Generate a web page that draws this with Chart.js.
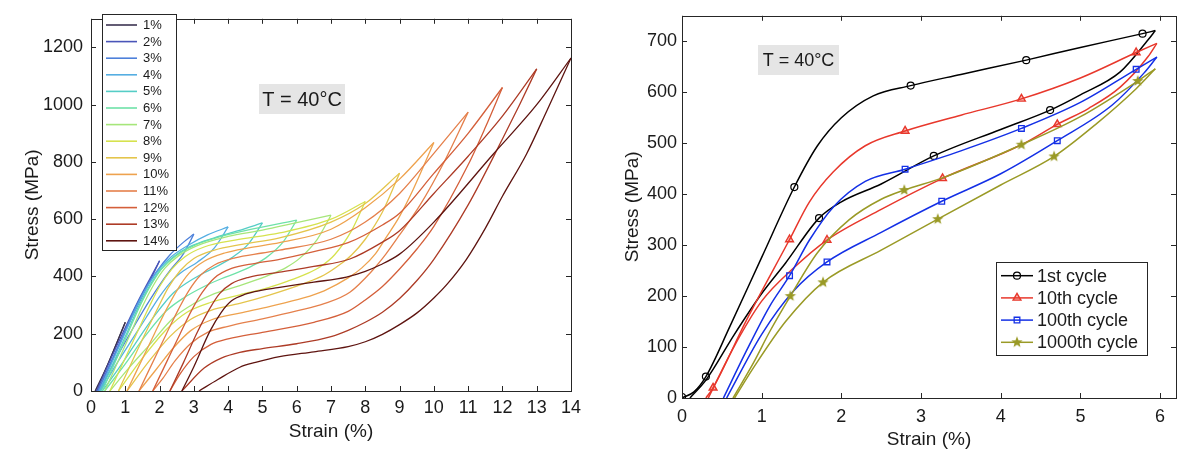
<!DOCTYPE html>
<html>
<head>
<meta charset="utf-8">
<script src="https://cdn.jsdelivr.net/npm/chart.js@4.4.1/dist/chart.umd.min.js"></script>
<style>
  html, body { margin: 0; padding: 0; background: #fff; }
  #wrap { position: relative; width: 1200px; height: 459px; }
  .panel { position: absolute; top: 0; width: 600px; height: 459px; }
</style>
</head>
<body>
<div id="wrap">
  <div class="panel" style="left:0"><canvas id="loops" width="600" height="459"></canvas></div>
  <div class="panel" style="left:600px"><canvas id="cycles" width="600" height="459"></canvas></div>
</div>
<script>
// left panel: loading / unloading branch of each loop, [strain %, stress MPa]
const loopLabels = ['1%', '2%', '3%', '4%', '5%', '6%', '7%', '8%', '9%', '10%', '11%', '12%', '13%', '14%'];

const up1 = [[0.12,0],[0.5,95],[1,240]];
const down1 = [[1,240],[0.55,110],[0.16,0]];
const up2 = [[0.16,0],[0.8,170],[1.4,320],[1.8,410],[2,455]];
const down2 = [[2,455],[1.7,380],[1.2,260],[0.7,130],[0.2,0]];
const up3 = [[0.2,0],[0.9,185],[1.25,280],[1.55,350],[1.9,415],[2.3,475],[2.7,520],[3,548]];
const down3 = [[3,548],[2.7,480],[2.3,420],[2.0,370],[1.7,315],[1.3,235],[0.9,150],[0.24,0]];
const up4 = [[0.24,0],[0.95,190],[1.3,285],[1.6,355],[1.95,420],[2.35,470],[2.85,510],[3.4,545],[4,573]];
const down4 = [[4,573],[3.6,500],[3.1,450],[2.7,420],[2.4,390],[2.0,330],[1.6,255],[1.2,180],[0.8,105],[0.28,0]];
const up5 = [[0.28,0],[1.0,190],[1.35,285],[1.65,355],[2.0,420],[2.4,468],[2.9,505],[3.6,535],[4.3,560],[5,587]];
const down5 = [[5,587],[4.6,515],[4.1,465],[3.7,437],[3.3,413],[2.8,378],[2.4,342],[1.9,270],[1.4,185],[0.9,95],[0.33,0]];
const up6 = [[0.33,0],[1.05,195],[1.4,290],[1.7,360],[2.05,425],[2.45,470],[3.0,508],[3.8,540],[4.8,568],[6,597]];
const down6 = [[6,597],[5.6,520],[5.1,465],[4.7,437],[4.3,415],[3.8,392],[3.3,365],[2.7,325],[2.2,280],[1.6,195],[1.0,95],[0.4,0]];
const up7 = [[0.4,0],[1.15,200],[1.5,295],[1.8,365],[2.15,428],[2.55,472],[3.1,508],[4,540],[5,562],[6,588],[7,614]];
const down7 = [[7,614],[6.6,530],[6.1,465],[5.7,432],[5.3,410],[4.8,387],[4.34,368],[3.6,340],[3.0,305],[2.4,255],[1.7,160],[1.1,80],[0.55,0]];
const up8 = [[0.55,0],[1.35,205],[1.7,295],[2.0,365],[2.35,425],[2.75,470],[3.3,503],[4.2,527],[5.5,552],[7,600],[8,662]];
const down8 = [[8,662],[7.6,560],[7.1,475],[6.7,435],[6.3,410],[5.7,382],[5.2,362],[4.34,336],[3.5,310],[2.8,275],[2.2,215],[1.5,115],[0.8,0]];
const up9 = [[0.8,0],[1.6,205],[1.95,290],[2.25,360],[2.6,420],[3.0,463],[3.6,492],[4.4,512],[5.5,535],[7,590],[8,655],[9,761]];
const down9 = [[9,761],[8.5,625],[8,530],[7.6,475],[7.3,445],[6.8,405],[6.2,375],[5.2,335],[4.34,306],[3.5,282],[2.9,250],[2.3,190],[1.7,105],[1.05,0]];
const up10 = [[1.05,0],[1.85,200],[2.2,285],[2.5,350],[2.85,410],[3.3,453],[3.9,482],[4.6,500],[5.5,518],[7,565],[8,640],[9,740],[10,868]];
const down10 = [[10,868],[9.4,705],[9,610],[8.6,535],[8.3,480],[7.9,430],[7.5,395],[6.8,350],[6.2,325],[5.2,295],[4.34,272],[3.5,248],[2.9,210],[2.4,150],[1.9,75],[1.4,0]];
const up11 = [[1.4,0],[2.2,200],[2.55,285],[2.85,350],[3.2,405],[3.6,440],[4.2,465],[5.0,482],[5.5,492],[7,530],[8,590],[9,690],[10,830],[11,974]];
const down11 = [[11,974],[10.3,800],[9.6,650],[9,545],[8.6,478],[8.2,420],[7.55,345],[6.8,305],[6,280],[5,252],[4.0,226],[3.4,205],[2.9,165],[2.45,105],[2.1,45],[1.8,0]];
const up12 = [[1.8,0],[2.2,100],[2.6,200],[2.95,285],[3.25,345],[3.6,395],[4.1,428],[4.8,446],[5.5,460],[6.5,487],[7.5,518],[8.5,580],[9,621],[10,760],[11,900],[12,1060]];
const down12 = [[12,1060],[11.5,920],[11,790],[10,575],[9.5,495],[9,426],[8.5,365],[8,318],[7.5,278],[6.5,240],[5,205],[4.0,182],[3.5,163],[3.0,120],[2.6,60],[2.3,0]];
const up13 = [[2.3,0],[2.7,100],[3.1,205],[3.45,285],[3.75,340],[4.1,375],[4.6,397],[5.5,415],[6.5,435],[7.55,461],[8.5,520],[9,560],[10,690],[11,820],[12,960],[13,1125]];
const down13 = [[13,1125],[12.5,1000],[12,880],[11,650],[10,460],[9.5,385],[9,323],[8.5,275],[8,240],[7.5,212],[7,190],[6,165],[5,148],[4.34,135],[3.8,115],[3.3,80],[2.65,0]];
const up14 = [[2.65,0],[3.0,85],[3.47,209],[3.8,275],[4.1,315],[4.5,338],[5.0,352],[5.5,362],[6.5,380],[7.45,398],[8.0,418],[8.43,440],[9,478],[10,590],[11.73,827],[13,1000],[14,1163]];
const down14 = [[14,1163],[13.3,980],[12.7,827],[12,680],[11.5,568],[10.95,460],[10.4,375],[10,325],[9.5,272],[9,232],[8.5,198],[8,172],[7.5,155],[6.5,137],[5.5,120],[4.8,100],[4.34,83],[3.7,40],[3.15,0]];

const loadBranches = [up1, up2, up3, up4, up5, up6, up7, up8, up9, up10, up11, up12, up13, up14];
const unloadBranches = [down1, down2, down3, down4, down5, down6, down7, down8, down9, down10, down11, down12, down13, down14];
const loopColors = ['#3c3351','#4a55b8','#4d80da','#55aee2','#55cdc6','#6ee2a8','#a6e67a','#d6e24e',
                    '#e4c54c','#eea24e','#e5804c','#d45f3a','#ad3b26','#5e1410'];

// right panel: cycles
const cycleLabels = ['1st cycle', '10th cycle', '100th cycle', '1000th cycle'];

const load1st = [[0,0],[0.15,12],[0.3,42],[0.6,140],[1.0,276],[1.41,414],[1.7,495],[2.0,550],[2.4,593],[2.87,613],[3.5,635],[4.32,663],[5.0,688],[5.78,715],[5.94,721]];
const unload1st = [[5.94,721],[5.85,703],[5.5,640],[5.0,595],[4.62,565],[4.0,527],[3.16,475],[2.5,420],[2.0,385],[1.72,353],[1.3,265],[1.0,205],[0.65,123],[0.3,35],[0.1,0]];
const marks1st = [[0,2],[0.3,42],[1.41,414],[2.87,613],[4.32,663],[5.78,715],[4.62,565],[3.16,475],[1.72,353]];

const load10th = [[0.3,0],[0.39,20],[0.8,150],[1.35,311],[1.6,385],[1.9,444],[2.3,495],[2.8,524],[3.5,555],[4.26,587],[5.0,628],[5.7,678],[5.96,696]];
const unload10th = [[5.96,696],[5.85,670],[5.5,610],[5.1,568],[4.71,537],[4.26,497],[3.27,431],[2.5,370],[1.82,310],[1.4,255],[1.0,190],[0.65,100],[0.33,0]];
const marks10th = [[0.39,20],[1.35,311],[2.8,524],[4.26,587],[5.7,678],[4.71,537],[3.27,431],[1.82,310]];

const load100th = [[0.52,0],[0.8,90],[1.1,180],[1.35,240],[1.6,310],[1.9,375],[2.3,425],[2.8,449],[3.5,485],[4.26,529],[5.0,580],[5.7,645],[5.96,669]];
const unload100th = [[5.96,669],[5.8,638],[5.4,575],[4.71,505],[4.0,440],[3.26,386],[2.5,325],[1.82,267],[1.4,210],[1.0,125],[0.56,0]];
const marks100th = [[1.35,240],[2.8,449],[4.26,529],[5.7,645],[4.71,505],[3.26,386],[1.82,267]];

const load1000th = [[0.64,0],[0.9,70],[1.1,130],[1.36,200],[1.7,285],[2.1,350],[2.5,390],[2.79,408],[3.27,432],[4.26,497],[5.0,552],[5.72,622],[5.94,646]];
const unload1000th = [[5.94,646],[5.7,607],[5.2,538],[4.67,474],[4.0,418],[3.21,351],[2.5,290],[1.77,227],[1.3,150],[0.9,60],[0.66,0]];
const marks1000th = [[1.36,200],[2.79,408],[4.26,497],[5.72,622],[4.67,474],[3.21,351],[1.77,227]];

const FONT = '"Liberation Sans", Arial, Helvetica, sans-serif';
const INK = '#1a1a1a';

function toXY(pts) {
    return pts.map(p => ({ x: p[0], y: p[1] }));
}

// pentagram marker like matlab's 'p'
function starImage(color, r) {
    const c = document.createElement('canvas');
    const s = Math.ceil(r * 2 + 2);
    c.width = s; c.height = s;
    const g = c.getContext('2d');
    g.beginPath();
    for (let i = 0; i < 10; i++) {
        const rad = i % 2 ? r * 0.42 : r;
        const ang = -Math.PI / 2 + i * Math.PI / 5;
        g.lineTo(s / 2 + rad * Math.cos(ang), s / 2 + rad * Math.sin(ang));
    }
    g.closePath();
    g.fillStyle = color;
    g.fill();
    return c;
}

// box around the axes with inward ticks on all sides
const frame = {
    id: 'frame',
    afterDatasetsDraw(chart) {
        const { ctx, chartArea: a, scales } = chart;
        ctx.save();
        ctx.strokeStyle = '#262626';
        ctx.lineWidth = 1;
        ctx.beginPath();
        scales.x.ticks.forEach(t => {
            const p = Math.round(scales.x.getPixelForValue(t.value)) + 0.5;
            ctx.moveTo(p, a.bottom); ctx.lineTo(p, a.bottom - 5);
            ctx.moveTo(p, a.top); ctx.lineTo(p, a.top + 5);
        });
        scales.y.ticks.forEach(t => {
            const p = Math.round(scales.y.getPixelForValue(t.value)) + 0.5;
            ctx.moveTo(a.left, p); ctx.lineTo(a.left + 5, p);
            ctx.moveTo(a.right, p); ctx.lineTo(a.right - 5, p);
        });
        ctx.stroke();
        ctx.strokeRect(Math.round(a.left) + 0.5, Math.round(a.top) + 0.5,
                       Math.round(a.right - a.left), Math.round(a.bottom - a.top));
        ctx.restore();
    }
};

// grey "T = 40°C" tag
const tempTag = {
    id: 'tempTag',
    afterDatasetsDraw(chart, args, o) {
        const ctx = chart.ctx;
        ctx.save();
        ctx.fillStyle = '#e5e5e5';
        ctx.fillRect(o.x, o.y, o.w, o.h);
        ctx.fillStyle = INK;
        ctx.font = o.size + 'px ' + FONT;
        ctx.textAlign = 'center';
        ctx.textBaseline = 'middle';
        ctx.fillText(o.text, o.x + o.w / 2, o.y + o.h / 2 + 1);
        ctx.restore();
    }
};

const loopLegend = {
    id: 'loopLegend',
    afterDatasetsDraw(chart, args, o) {
        const ctx = chart.ctx;
        ctx.save();
        ctx.fillStyle = '#fff';
        ctx.fillRect(o.x, o.y, o.w, o.h);
        ctx.strokeStyle = '#262626';
        ctx.lineWidth = 1;
        ctx.strokeRect(o.x + 0.5, o.y + 0.5, o.w, o.h);
        ctx.font = '13px ' + FONT;
        ctx.textBaseline = 'middle';
        loopLabels.forEach((lab, i) => {
            const y = o.y + o.first + i * o.step;
            ctx.strokeStyle = loopColors[i];
            ctx.lineWidth = 1.6;
            ctx.beginPath();
            ctx.moveTo(o.x + 4, y);
            ctx.lineTo(o.x + 35, y);
            ctx.stroke();
            ctx.fillStyle = INK;
            ctx.fillText(lab, o.x + 41, y + 0.5);
        });
        ctx.restore();
    }
};

const cycleLegend = {
    id: 'cycleLegend',
    afterDatasetsDraw(chart, args, o) {
        const ctx = chart.ctx;
        ctx.save();
        ctx.fillStyle = '#fff';
        ctx.fillRect(o.x, o.y, o.w, o.h);
        ctx.strokeStyle = '#262626';
        ctx.lineWidth = 1;
        ctx.strokeRect(o.x + 0.5, o.y + 0.5, o.w, o.h);
        ctx.font = '18px ' + FONT;
        ctx.textBaseline = 'middle';
        cycleLabels.forEach((lab, i) => {
            const y = o.y + o.first + i * o.step;
            const m = cycleMarkers[i];
            ctx.strokeStyle = cycleColors[i];
            ctx.lineWidth = 1.5;
            ctx.beginPath();
            ctx.moveTo(o.x + 5, y);
            ctx.lineTo(o.x + 37, y);
            ctx.stroke();
            ctx.fillStyle = m.fill;
            ctx.lineWidth = m.width;
            Chart.helpers.drawPoint(ctx, { pointStyle: m.style, radius: m.radius, borderWidth: m.width, rotation: 0 }, o.x + 21, y);
            ctx.fillStyle = INK;
            ctx.fillText(lab, o.x + 41, y + 1);
        });
        ctx.restore();
    }
};

const cycleColors = ['#000000', '#e8382c', '#1430e6', '#9a9a26'];
const cycleMarkers = [
    { style: 'circle', radius: 3.5, width: 1.2, fill: 'rgba(0,0,0,0)' },
    { style: 'triangle', radius: 4.5, width: 1.4, fill: 'rgba(232,56,44,0.35)' },
    { style: 'rect', radius: 4, width: 1.3, fill: 'rgba(0,0,0,0)' },
    { style: starImage('#9a9a26', 6), radius: 6, width: 0, fill: '#9a9a26' }
];

function axisSet(min, max, step, title, pad, titlePad, opts) {
    return Object.assign({
        type: 'linear', min: min, max: max,
        grid: { display: false, drawTicks: false },
        border: { display: false },
        ticks: { stepSize: step, includeBounds: false, padding: pad, color: INK, maxRotation: 0,
                 font: { size: 18, family: FONT }, callback: v => String(v) },
        title: { display: true, text: title, color: INK, padding: titlePad,
                 font: { size: 19, family: FONT } }
    }, opts);
}

// ---- left: loops ----
const leftSets = [];
loopLabels.forEach((lab, i) => {
    [loadBranches[i], unloadBranches[i]].forEach(pts => {
        leftSets.push({
            label: lab,
            data: toXY(pts),
            showLine: true,
            borderColor: loopColors[i],
            borderWidth: 1.3,
            pointRadius: 0,
            cubicInterpolationMode: 'monotone',
            fill: false,
            order: 20 - i
        });
    });
});

new Chart(document.getElementById('loops'), {
    type: 'scatter',
    data: { datasets: leftSets },
    options: {
        responsive: false,
        animation: false,
        layout: { padding: { left: 0, right: 29, top: 12, bottom: 0 } },
        scales: {
            x: axisSet(0, 14, 1, 'Strain (%)', 6, { top: 0, bottom: 16 }, {
                afterFit: s => { s.height = 68; }
            }),
            y: axisSet(0, 1300, 200, 'Stress (MPa)', 8, { top: 21, bottom: 0 }, {
                afterFit: s => { s.width = 91; }
            })
        },
        plugins: {
            legend: { display: false },
            tooltip: { enabled: false },
            tempTag: { x: 259, y: 84, w: 86, h: 30, size: 20, text: 'T = 40°C' },
            loopLegend: { x: 102, y: 14, w: 74, h: 236, first: 11, step: 16.6 }
        }
    },
    plugins: [frame, tempTag, loopLegend]
});

// ---- right: cycles ----
const cycleLoad = [load1st, load10th, load100th, load1000th];
const cycleUnload = [unload1st, unload10th, unload100th, unload1000th];
const cycleMarks = [marks1st, marks10th, marks100th, marks1000th];

const rightSets = [];
cycleLabels.forEach((lab, i) => {
    [cycleLoad[i], cycleUnload[i]].forEach(pts => {
        rightSets.push({
            label: lab,
            data: toXY(pts),
            showLine: true,
            borderColor: cycleColors[i],
            borderWidth: 1.5,
            pointRadius: 0,
            cubicInterpolationMode: 'monotone',
            fill: false,
            order: 10 - i
        });
    });
    const m = cycleMarkers[i];
    rightSets.push({
        label: lab,
        data: toXY(cycleMarks[i]),
        showLine: false,
        pointStyle: m.style,
        pointRadius: m.radius,
        pointBorderWidth: m.width,
        pointBorderColor: cycleColors[i],
        pointBackgroundColor: m.fill,
        order: 10 - i
    });
});

new Chart(document.getElementById('cycles'), {
    type: 'scatter',
    data: { datasets: rightSets },
    options: {
        responsive: false,
        animation: false,
        layout: { padding: { left: 0, right: 24, top: 7, bottom: 0 } },
        scales: {
            x: axisSet(0, 6.2, 1, 'Strain (%)', 8, { top: 0, bottom: 8 }, {
                afterFit: s => { s.height = 61; }
            }),
            y: axisSet(0, 750, 100, 'Stress (MPa)', 5, { top: 21, bottom: 0 }, {
                afterFit: s => { s.width = 82; }
            })
        },
        plugins: {
            legend: { display: false },
            tooltip: { enabled: false },
            tempTag: { x: 158, y: 45, w: 81, h: 30, size: 18, text: 'T = 40°C' },
            cycleLegend: { x: 396, y: 262, w: 151, h: 93, first: 13.7, step: 22.2 }
        }
    },
    plugins: [frame, tempTag, cycleLegend]
});
</script>
</body>
</html>
